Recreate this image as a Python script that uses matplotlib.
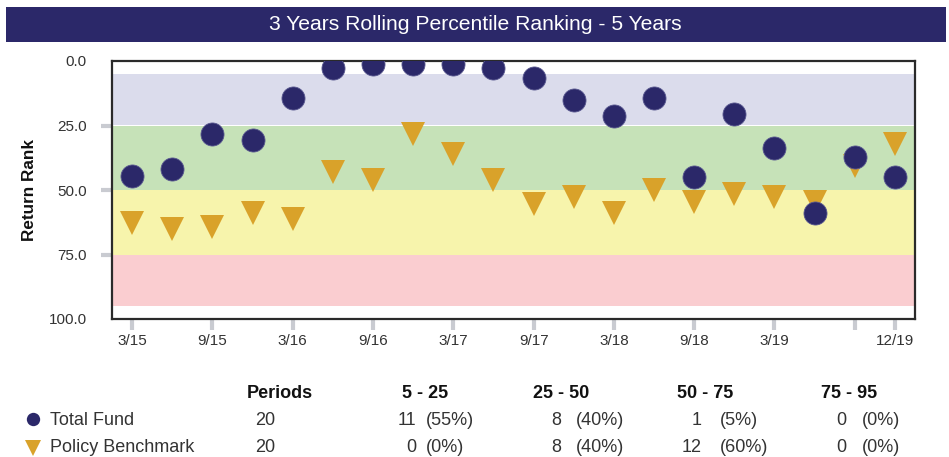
import matplotlib
matplotlib.use("Agg")
import matplotlib.pyplot as plt
from matplotlib.lines import Line2D
from matplotlib.patches import Rectangle

plt.rcParams['font.family'] = ['Liberation Sans', 'DejaVu Sans']

# ---- data ----
quarters = ['3/15', '6/15', '9/15', '12/15', '3/16', '6/16', '9/16', '12/16',
            '3/17', '6/17', '9/17', '12/17', '3/18', '6/18', '9/18', '12/18',
            '3/19', '6/19', '9/19', '12/19']
total_fund = [44.4, 42.0, 28.3, 30.5, 14.5, 2.8, 1.3, 1.3, 1.3, 2.8,
              6.7, 15.1, 21.3, 14.5, 45.0, 20.5, 33.6, 58.9, 37.3, 45.0]
policy_bm = [62.9, 65.2, 64.3, 59.0, 61.3, 43.0, 46.0, 28.4, 36.1, 46.0,
             55.3, 52.9, 59.1, 49.9, 54.5, 51.4, 52.9, 54.5, 40.8, 32.2]
tick_idx = [0, 2, 4, 6, 8, 10, 12, 14, 16, 18, 19]
tick_labels = ['3/15', '9/15', '3/16', '9/16', '3/17', '9/17', '3/18',
               '9/18', '3/19', '', '12/19']
y_ticks = [0, 25, 50, 75, 100]
band_edges = [5, 25, 50, 75, 95]
band_colors = ['#DBDCEC', '#C6E2B8', '#F7F4AC', '#FACDD0']
series_names = ['Total Fund', 'Policy Benchmark']
periods = [20, 20]
range_labels = ['5 - 25', '25 - 50', '50 - 75', '75 - 95']
fund_counts = [11, 8, 1, 0]
fund_pcts = ['(55%)', '(40%)', '(5%)', '(0%)']
bm_counts = [0, 8, 12, 0]
bm_pcts = ['(0%)', '(40%)', '(60%)', '(0%)']
title = '3 Years Rolling Percentile Ranking - 5 Years'

NAVY = '#2B2869'
GOLD = '#D9A22A'
TXT = '#333333'

W, H = 949, 457
fig = plt.figure(figsize=(W / 100, H / 100), dpi=100)

def fx(px):
    return px / W

def fy(py):
    return 1 - py / H

# title bar
fig.add_artist(Rectangle((fx(6), fy(41.5)), fx(946) - fx(6), fy(7) - fy(41.5),
                         transform=fig.transFigure, facecolor=NAVY,
                         edgecolor='none', zorder=0))
fig.text(fx(475), fy(24.5), title, color='white', fontsize=15.2,
         ha='center', va='center')

# axes
ax = fig.add_axes([fx(112), fy(319), fx(915) - fx(112), fy(61) - fy(319)])
for i in range(len(band_colors)):
    ax.axhspan(band_edges[i], band_edges[i + 1], color=band_colors[i],
               lw=0, zorder=0)

x = list(range(len(quarters)))
ax.plot(x, policy_bm, linestyle='none', marker='v', markersize=17.3,
        color=GOLD, markeredgewidth=0, zorder=3)
ax.plot(x, total_fund, linestyle='none', marker='o', markersize=16.6,
        color=NAVY, markeredgecolor='#5a5990', markeredgewidth=0.6, zorder=4)

ax.set_xlim(-0.5, 19.5)
ax.set_ylim(100, 0)
ax.set_xticks(tick_idx)
ax.set_xticklabels(tick_labels)
ax.set_yticks(y_ticks)
ax.set_yticklabels([f'{v:.1f}' for v in y_ticks])
ax.tick_params(axis='both', direction='out', length=8, width=3,
               color='#C9CBD1', labelcolor=TXT, labelsize=11)
ax.tick_params(axis='x', pad=3)
ax.tick_params(axis='y', pad=10)
yt = ax.yaxis.get_major_ticks()
yt[0].tick1line.set_visible(False)
yt[-1].tick1line.set_visible(False)
for s in ax.spines.values():
    s.set_color('#2a2a2a')
    s.set_linewidth(1.6)
ax.set_ylabel('Return Rank', fontsize=12.3, fontweight='bold', color='#111111')
ax.yaxis.set_label_coords(-(112 - 37) / (915 - 112), 0.5)

# table below
FS = 13
hdr_base = 398.5
row_base = [425, 452]
fig.text(fx(246.7), fy(hdr_base), 'Periods', fontsize=FS, fontweight='bold',
         color='#111111', ha='left', va='baseline')
range_left = [401.7, 533, 677, 820.7]
count_right = [416.7, 561.7, 701.7, 846.7]
pct_left = [426, 576, 719.7, 862.3]
for lab, xl in zip(range_labels, range_left):
    fig.text(fx(xl), fy(hdr_base), lab, fontsize=FS, fontweight='bold',
             color='#111111', ha='left', va='baseline')

markers = ['o', 'v']
mcolors = [NAVY, GOLD]
msizes = [9.6, 12]
marker_y = [418.5, 447.5]
counts = [fund_counts, bm_counts]
pcts = [fund_pcts, bm_pcts]
for r in range(2):
    fig.add_artist(Line2D([fx(33)], [fy(marker_y[r])], marker=markers[r],
                          markersize=msizes[r], color=mcolors[r],
                          markeredgewidth=0, linestyle='none',
                          transform=fig.transFigure))
    fig.text(fx(50.5), fy(row_base[r]), series_names[r], fontsize=FS,
             color=TXT, ha='left', va='baseline')
    fig.text(fx(255), fy(row_base[r]), str(periods[r]), fontsize=FS,
             color=TXT, ha='left', va='baseline')
    for c in range(4):
        fig.text(fx(count_right[c]), fy(row_base[r]), str(counts[r][c]),
                 fontsize=FS, color=TXT, ha='right', va='baseline')
        fig.text(fx(pct_left[c]), fy(row_base[r]), pcts[r][c],
                 fontsize=FS, color=TXT, ha='left', va='baseline')

fig.savefig('out.png', dpi=100)
